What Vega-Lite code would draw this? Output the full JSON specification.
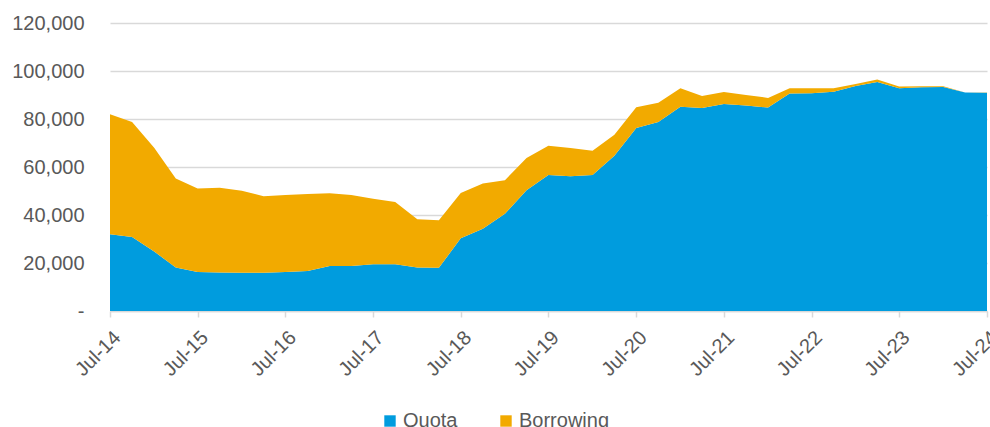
{
  "$schema": "https://vega.github.io/schema/vega-lite/v6.json",
  "autosize": {"type": "none"},
  "width": 877,
  "height": 288,
  "padding": {"left": 110, "top": 23, "right": 3, "bottom": 116},
  "background": "white",
  "config": {
    "font": "Liberation Sans",
    "view": {"stroke": null}
  },
  "data": {
    "values": [
      {"date": "2014-07-01", "Quota": 32000, "Borrowing": 50000},
      {"date": "2014-10-01", "Quota": 30800, "Borrowing": 47900},
      {"date": "2015-01-01", "Quota": 24800, "Borrowing": 43200},
      {"date": "2015-04-01", "Quota": 18100, "Borrowing": 37100},
      {"date": "2015-07-01", "Quota": 16300, "Borrowing": 34700},
      {"date": "2015-10-01", "Quota": 16000, "Borrowing": 35400},
      {"date": "2016-01-01", "Quota": 15900, "Borrowing": 34200},
      {"date": "2016-04-01", "Quota": 15900, "Borrowing": 31900},
      {"date": "2016-07-01", "Quota": 16300, "Borrowing": 32000},
      {"date": "2016-10-01", "Quota": 16700, "Borrowing": 32100},
      {"date": "2017-01-01", "Quota": 18800, "Borrowing": 30300},
      {"date": "2017-04-01", "Quota": 18800, "Borrowing": 29500},
      {"date": "2017-07-01", "Quota": 19500, "Borrowing": 27300},
      {"date": "2017-10-01", "Quota": 19500, "Borrowing": 25900},
      {"date": "2018-01-01", "Quota": 18100, "Borrowing": 20100},
      {"date": "2018-04-01", "Quota": 18000, "Borrowing": 19800},
      {"date": "2018-07-01", "Quota": 30300, "Borrowing": 18900},
      {"date": "2018-10-01", "Quota": 34300, "Borrowing": 18800},
      {"date": "2019-01-01", "Quota": 40500, "Borrowing": 14000},
      {"date": "2019-04-01", "Quota": 50300, "Borrowing": 13500},
      {"date": "2019-07-01", "Quota": 56700, "Borrowing": 12200},
      {"date": "2019-10-01", "Quota": 56100, "Borrowing": 11800},
      {"date": "2020-01-01", "Quota": 56700, "Borrowing": 10100},
      {"date": "2020-04-01", "Quota": 64700, "Borrowing": 8700},
      {"date": "2020-07-01", "Quota": 76200, "Borrowing": 8700},
      {"date": "2020-10-01", "Quota": 78700, "Borrowing": 8100},
      {"date": "2021-01-01", "Quota": 85100, "Borrowing": 7700},
      {"date": "2021-04-01", "Quota": 84600, "Borrowing": 5000},
      {"date": "2021-07-01", "Quota": 86300, "Borrowing": 5000},
      {"date": "2021-10-01", "Quota": 85600, "Borrowing": 4400},
      {"date": "2022-01-01", "Quota": 84800, "Borrowing": 4000},
      {"date": "2022-04-01", "Quota": 90600, "Borrowing": 2200},
      {"date": "2022-07-01", "Quota": 90700, "Borrowing": 2100},
      {"date": "2022-10-01", "Quota": 91400, "Borrowing": 1400},
      {"date": "2023-01-01", "Quota": 93800, "Borrowing": 800},
      {"date": "2023-04-01", "Quota": 95400, "Borrowing": 1100},
      {"date": "2023-07-01", "Quota": 92800, "Borrowing": 700},
      {"date": "2023-10-01", "Quota": 93200, "Borrowing": 400},
      {"date": "2024-01-01", "Quota": 93300, "Borrowing": 300},
      {"date": "2024-04-01", "Quota": 91000, "Borrowing": 0},
      {"date": "2024-07-01", "Quota": 90900, "Borrowing": 100}
    ]
  },
  "transform": [
    {"fold": ["Quota", "Borrowing"], "as": ["series", "value"]}
  ],
  "mark": {"type": "area", "strokeWidth": 0},
  "encoding": {
    "x": {
      "field": "date",
      "type": "temporal",
      "scale": {"type": "utc", "nice": false, "domain": [{"year": 2014, "month": "jul", "date": 1, "utc": true}, {"year": 2024, "month": "jul", "date": 1, "utc": true}]},
      "axis": {
        "title": null,
        "values": [
          {"year": 2014, "month": "jul", "date": 1, "utc": true},
          {"year": 2015, "month": "jul", "date": 1, "utc": true},
          {"year": 2016, "month": "jul", "date": 1, "utc": true},
          {"year": 2017, "month": "jul", "date": 1, "utc": true},
          {"year": 2018, "month": "jul", "date": 1, "utc": true},
          {"year": 2019, "month": "jul", "date": 1, "utc": true},
          {"year": 2020, "month": "jul", "date": 1, "utc": true},
          {"year": 2021, "month": "jul", "date": 1, "utc": true},
          {"year": 2022, "month": "jul", "date": 1, "utc": true},
          {"year": 2023, "month": "jul", "date": 1, "utc": true},
          {"year": 2024, "month": "jul", "date": 1, "utc": true}
        ],
        "labelExpr": "utcFormat(datum.value, '%b-%y')",
        "labelAngle": -45,
        "labelAlign": "right",
        "labelBaseline": "top",
        "labelFontSize": 20,
        "labelColor": "#595959",
        "labelPadding": 10,
        "labelFlush": false,
        "labelOverlap": false,
        "grid": false,
        "domainColor": "#D9D9D9",
        "domainWidth": 1.5,
        "tickColor": "#D9D9D9",
        "tickWidth": 1.5,
        "tickSize": 6
      }
    },
    "y": {
      "field": "value",
      "type": "quantitative",
      "stack": "zero",
      "scale": {"domain": [0, 120000], "nice": false},
      "axis": {
        "title": null,
        "values": [0, 20000, 40000, 60000, 80000, 100000, 120000],
        "labelExpr": "datum.value == 0 ? '-\u00a0\u00a0' : format(datum.value, ',')",
        "labelFontSize": 20,
        "labelColor": "#595959",
        "labelPadding": 26,
        "domain": false,
        "ticks": false,
        "grid": true,
        "gridColor": "#D9D9D9",
        "gridWidth": 1.5
      }
    },
    "color": {
      "field": "series",
      "type": "nominal",
      "sort": ["Quota", "Borrowing"],
      "scale": {"domain": ["Quota", "Borrowing"], "range": ["#009CDE", "#F2AA00"]},
      "legend": {
        "title": null,
        "orient": "none",
        "direction": "horizontal",
        "legendX": 270,
        "legendY": 388,
        "symbolType": "square",
        "symbolSize": 130,
        "symbolStrokeWidth": 0,
        "labelFontSize": 20,
        "labelColor": "#595959",
        "labelOffset": 3,
        "columnPadding": 38,
        "padding": 0
      }
    }
  }
}
